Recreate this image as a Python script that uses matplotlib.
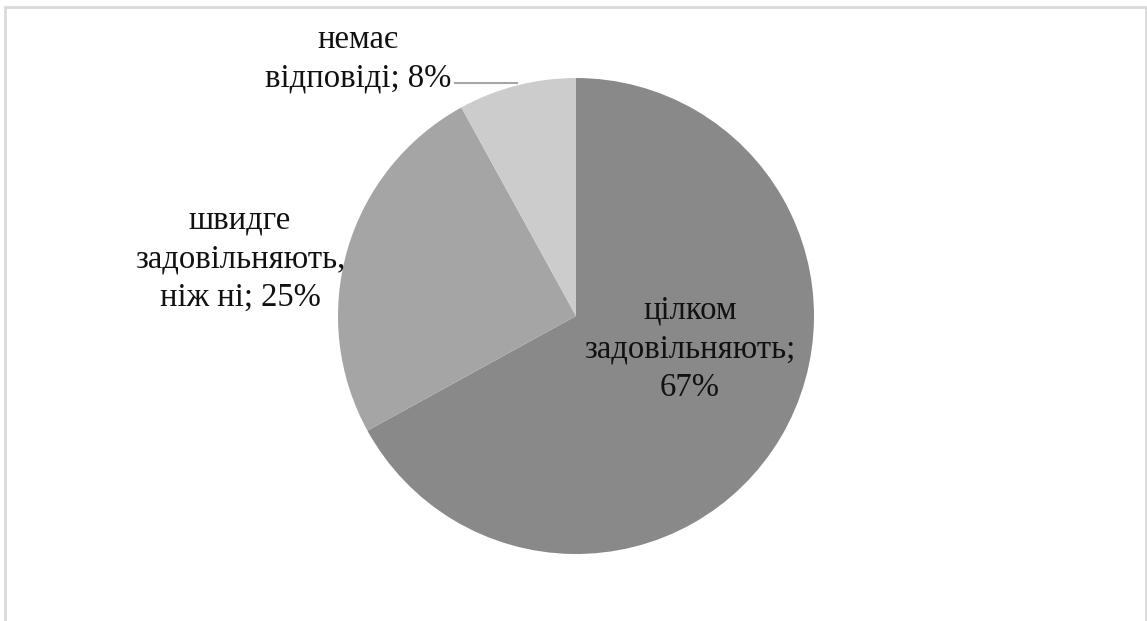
import matplotlib.pyplot as plt
from matplotlib.patches import Rectangle

labels = ['цілком\nзадовільняють;\n67%', 'швидге\nзадовільняють,\nніж ні; 25%', 'немає\nвідповіді; 8%']
values = [67, 25, 8]
colors = ['#898989', '#a5a5a5', '#cccccc']
# label centres, pixels of the picture
label_px = [(690, 349), (240, 259), (358, 59)]

W, H = 1147, 621
cx, cy, r = 576, 316, 238

fig = plt.figure(figsize=(W/100, H/100), dpi=100)
fig.patches.append(Rectangle((5/W, -0.1), (1141)/W, 1.1 - 7/H, transform=fig.transFigure,
                             fill=False, edgecolor='#d9d9d9', lw=2))
ax = fig.add_axes([(cx-r)/W, (H-cy-r)/H, 2*r/W, 2*r/H])
ax.pie(values, colors=colors, startangle=90, counterclock=False, radius=1,
       wedgeprops=dict(linewidth=0))
ax.set_xlim(-1, 1)
ax.set_ylim(-1, 1)
ax.axis('off')

def to_data(px, py):
    return (px-cx)/r, (cy-py)/r

for lab, (px, py) in zip(labels, label_px):
    x, y = to_data(px, py)
    ax.text(x, y, lab, ha='center', va='center', fontsize=23.5, family='Liberation Serif',
            color='#111111', linespacing=1.33, clip_on=False)

# leader line for the small slice
x0, y0 = to_data(455, 83)
x1, y1 = to_data(517, 83)
ax.plot([x0, x1], [y0, y1], color='#a6a6a6', lw=1.5, clip_on=False)

fig.savefig('out.png', dpi=100)
